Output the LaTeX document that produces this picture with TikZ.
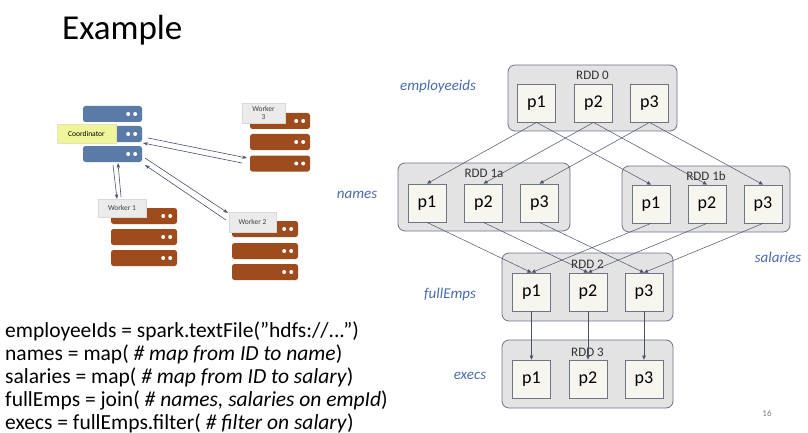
\documentclass[tikz,border=0pt]{standalone}
\usepackage{fontspec}
\setmainfont{Carlito}
\usetikzlibrary{arrows.meta}
\definecolor{lblue}{HTML}{4A6BB0}
\definecolor{srvb}{HTML}{5A7BA8}
\definecolor{srvr}{HTML}{9E4B1D}
\definecolor{boxg}{HTML}{E3E3E3}
\definecolor{pbox}{HTML}{F6F5EE}
\definecolor{edge}{HTML}{4A5068}
\tikzset{
 rdd/.style={draw=edge!80,fill=boxg,rounded corners=7pt,line width=0.8pt},
 part/.style={draw=edge!80,fill=pbox,line width=0.8pt,minimum width=38pt,minimum height=38pt,inner sep=0pt,font=\fontsize{18}{18}\selectfont},
 rlab/.style={font=\fontsize{13}{13}\selectfont,text=black!80},
 vlab/.style={font=\itshape\fontsize{15}{15}\selectfont,text=lblue},
 dep/.style={draw=edge,line width=0.5pt,-{Triangle[length=4pt,width=3.5pt]}},
 srv/.style={rounded corners=2.5pt,minimum width=60pt,minimum height=16pt,inner sep=0pt},
 wlab/.style={fill=black!8,draw=black!15,font=\fontsize{7.5}{8}\selectfont,text=black!75,inner sep=1pt,align=center},
 net/.style={draw=edge,line width=0.6pt,-{Stealth[length=5pt,width=3.5pt]}},
 code/.style={anchor=west,font=\fontsize{21.5}{21.5}\selectfont,inner sep=0pt}
}
\newcommand{\srvdots}[1]{\fill[white] ([xshift=-14pt]#1.east) circle (2pt) ([xshift=-7pt]#1.east) circle (2pt);}
\begin{document}
\begin{tikzpicture}[x=1pt,y=-1pt]
\useasboundingbox (0,0) rectangle (808,433);
\node[anchor=west,font=\fontsize{35}{35}\selectfont,inner sep=0pt] (title) at (62,30) {Example};
% servers
\node[srv,fill=srvb,minimum width=59pt] (c1) at (112.5,114) {}; \srvdots{c1}
\node[srv,fill=srvb,minimum width=59pt] (c2) at (112.5,134) {}; \srvdots{c2}
\node[srv,fill=srvb,minimum width=59pt] (c3) at (112.5,154) {}; \srvdots{c3}
\node[fill=yellow!45!lime!40,draw=yellow!60!black!30,minimum width=59pt,minimum height=19pt,inner sep=0pt,font=\fontsize{7.5}{8}\selectfont] (coord) at (86.5,133.5) {Coordinator};
\node[srv,fill=srvr] (w31) at (280,121) {}; \srvdots{w31}
\node[srv,fill=srvr] (w32) at (280,142) {}; \srvdots{w32}
\node[srv,fill=srvr] (w33) at (280,163.5) {}; \srvdots{w33}
\node[wlab,minimum width=43pt,minimum height=20pt] (w3) at (263.5,113) {Worker\\3};
\node[srv,fill=srvr,minimum width=66pt] (w11) at (144,216) {}; \srvdots{w11}
\node[srv,fill=srvr,minimum width=66pt] (w12) at (144,237) {}; \srvdots{w12}
\node[srv,fill=srvr,minimum width=66pt] (w13) at (144,258) {}; \srvdots{w13}
\node[wlab,minimum width=48pt,minimum height=18pt] (w1) at (122,208) {Worker 1};
\node[srv,fill=srvr,minimum width=66pt] (w21) at (265,229) {}; \srvdots{w21}
\node[srv,fill=srvr,minimum width=66pt] (w22) at (265,251) {}; \srvdots{w22}
\node[srv,fill=srvr,minimum width=66pt] (w23) at (265,272) {}; \srvdots{w23}
\node[wlab,minimum width=47pt,minimum height=20pt] (w2) at (252.5,222) {Worker 2};
\coordinate (a1) at (148,138); \coordinate (b1) at (247,158);
\coordinate (a2) at (242,163); \coordinate (b2) at (143,143);
\draw[net] (a1) -- (b1); \draw[net] (a2) -- (b2);
\coordinate (a3) at (113,165); \coordinate (b3) at (117,199);
\coordinate (a4) at (121,197); \coordinate (b4) at (118,163);
\draw[net] (a3) -- (b3); \draw[net] (a4) -- (b4);
\coordinate (a5) at (145,158); \coordinate (b5) at (228,213);
\coordinate (a6) at (226,220); \coordinate (b6) at (145,165);
\draw[net] (a5) -- (b5); \draw[net] (a6) -- (b6);
% code
\node[code] (l1) at (5,331) {employeeIds = spark.textFile(\char34 hdfs://.{}.{}.\char34)};
\node[code] (l2) at (5,354) {names = map( \textit{\# map from ID to name})};
\node[code] (l3) at (5,377) {salaries = map( \textit{\# map from ID to salary})};
\node[code] (l4) at (5,400) {fullEmps = join( \textit{\# names, salaries on empId})};
\node[code] (l5) at (5,423) {execs = fullEmps.filter( \textit{\# filter on salary})};
% RDD boxes
\draw[rdd] (508,65) rectangle (677,131); \node[rlab] (r0) at (592.5,75) {RDD 0};
\draw[rdd] (398,163) rectangle (570,231); \node[rlab] (r1a) at (484,173) {RDD 1a};
\draw[rdd] (622,166) rectangle (790,232); \node[rlab] (r1b) at (706,176) {RDD 1b};
\draw[rdd] (502,253) rectangle (673,321); \node[rlab] (r2) at (587.5,264) {RDD 2};
\draw[rdd] (502,340) rectangle (673,408); \node[rlab] (r3) at (587.5,352) {RDD 3};
\foreach \n/\x in {1/536.5,2/593.5,3/649.5} \node[part] (z\n) at (\x,103) {p\n};
\foreach \n/\x in {1/427,2/483.5,3/539.5} \node[part] (a\n) at (\x,203) {p\n};
\foreach \n/\x in {1/651,2/707,3/763} \node[part] (b\n) at (\x,204) {p\n};
\foreach \n/\x in {1/531.5,2/588,3/644} \node[part] (t\n) at (\x,292) {p\n};
\foreach \n/\x in {1/531.5,2/588,3/644} \node[part] (e\n) at (\x,379) {p\n};
\foreach \n in {1,2,3} {
 \draw[dep] (z\n.south) -- (a\n.north);
 \draw[dep] (z\n.south) -- (b\n.north);
 \draw[dep] (a\n.south) -- (t\n.north);
 \draw[dep] (b\n.south) -- (t\n.north);
 \draw[dep] (t\n.south) -- (e\n.north);
}
\node[vlab] (v0) at (438,87) {employeeids};
\node[vlab] (v1) at (357,195) {names};
\node[vlab] (v2) at (778,257) {salaries};
\node[vlab] (v3) at (450,294) {fullEmps};
\node[vlab] (v4) at (470,376) {execs};
\node[font=\fontsize{9}{9}\selectfont,text=black!50] (pg) at (767,413) {16};
\end{tikzpicture}
\end{document}
